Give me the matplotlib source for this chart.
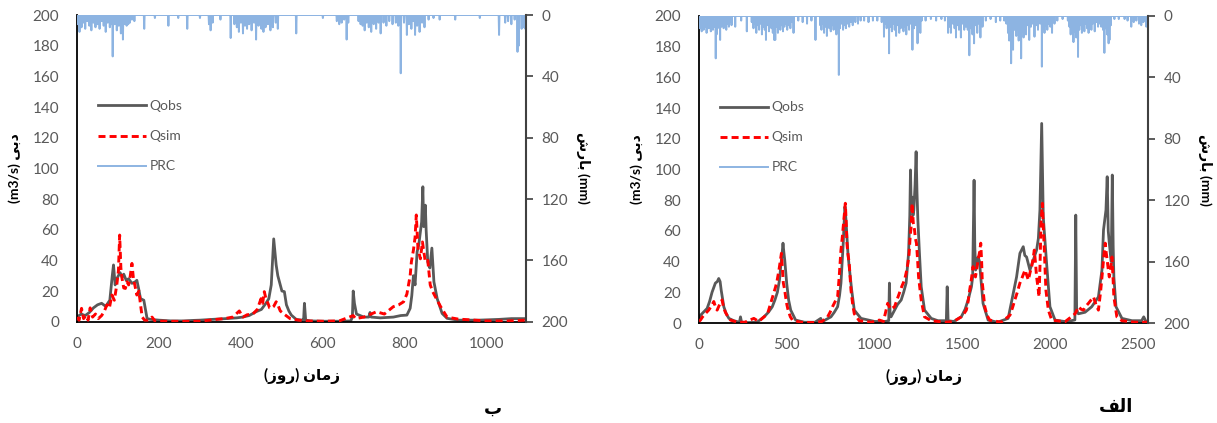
import numpy as np
import matplotlib
matplotlib.use("Agg")
import matplotlib.pyplot as plt


plt.rcParams['font.family'] = ['Lato', 'DejaVu Sans']

TICK_COLOR = "#595959"
OBS_COLOR = "#595959"
SIM_COLOR = "#FF0000"
PRC_COLOR = "#8DB4E2"

# ---- panel "ب" (left) ----
N_B = 1096

obs_b_day = [0, 10, 20, 30, 40, 50, 60, 70, 80, 86,
             89, 93, 97, 101, 105, 110, 114, 120, 126, 134,
             142, 146, 150, 155, 163, 167, 171, 180, 200, 230,
             260, 280, 300, 330, 363, 390, 404, 420, 437, 450,
             461, 468, 474, 480, 486, 490, 494, 500, 506, 511,
             517, 523, 535, 550, 553, 555, 558, 570, 600, 640,
             668, 672, 674, 677, 682, 700, 712, 715, 718, 740,
             772, 790, 805, 813, 817, 821, 825, 830, 834, 838,
             841, 844, 846, 848, 850, 852, 856, 861, 866, 871,
             879, 891, 903, 930, 980, 1030, 1060, 1096]
obs_b_val = [3, 5, 4, 6, 9, 11, 12, 10, 14, 30,
             37, 24, 28, 30, 32, 29, 31, 27, 28, 25,
             26, 27, 22, 15, 14, 8, 2, 1.5, 1, 0.5,
             0.5, 0.8, 1, 1.5, 2, 2.5, 3, 4, 6.5, 8,
             12, 15, 24, 54, 37, 30, 26, 20, 19.6, 11,
             7, 4.3, 1.5, 1, 1.5, 12, 1, 0.5, 0.3, 0.3,
             0.5, 3, 20, 12, 5, 3, 3, 6, 3, 2.5,
             3, 4, 4.3, 8.7, 17, 30, 24, 45.6, 50, 58.7,
             65, 88, 62, 70, 76, 60, 39, 35, 48, 26,
             15, 5.4, 2.2, 1, 1, 1.5, 2, 2]

sim_b_day = [0, 5, 11, 16, 22, 27, 32, 38, 45, 52,
             60, 66, 73, 79, 85, 91, 97, 101, 104, 107,
             110, 114, 118, 122, 126, 130, 134, 138, 141, 146,
             151, 155, 159, 165, 172, 183, 190, 210, 250, 300,
             340, 360, 380, 396, 405, 415, 429, 440, 449, 453,
             457, 462, 466, 470, 474, 480, 486, 490, 496, 505,
             520, 540, 560, 600, 640, 674, 680, 700, 731, 750,
             772, 785, 797, 805, 809, 813, 816, 821, 825, 828,
             832, 838, 843, 850, 856, 862, 868, 875, 881, 887,
             895, 903, 930, 1000, 1050, 1096]
sim_b_val = [3, 1, 8.7, 2, 4, 1, 9, 3, 5, 2,
             4, 6.5, 11, 9, 17.4, 14, 24, 33, 56.5, 35,
             28, 22, 21.7, 26, 24, 30, 38, 27, 24, 17.4,
             20, 11, 3, 1, 1, 3, 0.5, 0.3, 0.2, 0.3,
             1.5, 2, 3, 7, 3, 4.5, 5, 8, 15, 12,
             19.6, 14, 12, 9, 8.7, 10, 13, 11, 7, 5,
             2, 1, 0.5, 0.3, 0.5, 4, 2, 3, 6.5, 5,
             9.8, 11, 13, 18, 24, 30, 39, 46.7, 55, 69.6,
             48, 41, 52, 39, 40, 24, 19.6, 16, 13, 10,
             6.5, 3, 1.7, 0.5, 0.5, 1]

prc_b_day = [2, 6, 11, 15, 20, 25, 30, 35, 40, 45,
             50, 55, 60, 65, 70, 75, 80, 84, 87, 92,
             97, 102, 107, 112, 117, 121, 125, 129, 134, 140,
             164, 190, 223, 247, 269, 300, 322, 326, 331, 350,
             375, 384, 390, 395, 400, 405, 410, 415, 420, 426,
             432, 437, 443, 450, 455, 460, 466, 472, 478, 485,
             490, 535, 600, 634, 640, 646, 652, 658, 662, 687,
             692, 697, 702, 707, 712, 718, 724, 730, 736, 741,
             748, 755, 762, 770, 778, 784, 790, 798, 805, 810,
             816, 820, 825, 830, 836, 842, 848, 858, 870, 885,
             923, 983, 1030, 1045, 1052, 1060, 1068, 1075, 1078, 1085,
             1090, 1094]
prc_b_mm = [6, 11, 8, 5, 9, 4, 7, 10, 5, 8,
            6, 9, 4, 7, 11, 5, 8, 6, 27, 6,
            10, 7, 12, 16, 6, 7, 6, 5, 3, 4,
            9, 2, 7, 2, 9, 2, 6, 10, 5, 3,
            15, 6, 8, 11, 5, 12, 7, 9, 6, 10,
            5, 16, 7, 9, 11, 8, 6, 10, 8, 5,
            9, 12, 2, 4, 6, 5, 3, 16, 5, 4,
            6, 7, 10, 5, 8, 11, 6, 9, 5, 12,
            5, 7, 4, 6, 5, 7, 38, 5, 13, 6,
            9, 4, 13, 7, 11, 5, 8, 3, 2, 3,
            3, 2, 13, 5, 4, 6, 3, 24, 20, 9,
            8, 9]

# ---- panel "الف" (right) ----
N_A = 2557

obs_a_day = [0, 8, 25, 46, 60, 74, 93, 104, 112, 120,
             126, 141, 155, 170, 198, 230, 236, 242, 280, 330,
             370, 395, 417, 432, 446, 458, 465, 472, 478, 483,
             488, 494, 499, 510, 522, 550, 600, 660, 693, 700,
             751, 770, 789, 800, 808, 815, 821, 826, 831, 836,
             840, 848, 855, 869, 884, 922, 1000, 1060, 1080, 1084,
             1088, 1093, 1113, 1130, 1151, 1165, 1179, 1193, 1200, 1204,
             1208, 1213, 1218, 1223, 1230, 1236, 1241, 1246, 1255, 1265,
             1284, 1322, 1360, 1408, 1413, 1418, 1450, 1493, 1515, 1532,
             1551, 1558, 1566, 1570, 1575, 1589, 1597, 1604, 1617, 1646,
             1700, 1760, 1789, 1808, 1827, 1846, 1855, 1865, 1884, 1903,
             1922, 1932, 1941, 1951, 1960, 1979, 1998, 2027, 2080, 2120,
             2140, 2145, 2150, 2160, 2198, 2236, 2274, 2294, 2303, 2317,
             2324, 2330, 2336, 2347, 2353, 2358, 2362, 2374, 2408, 2465,
             2520, 2532, 2545, 2557]
obs_a_val = [3, 5, 7, 9.5, 14, 20, 26, 27, 29, 27,
             21.5, 10.6, 6, 3, 1.5, 0.5, 4, 0.5, 0.3, 0.5,
             4, 7, 10.6, 15, 20, 28, 36.7, 44, 52, 46,
             41, 33, 26, 15, 8.4, 1.9, 0.5, 0.5, 3, 0.8,
             4, 7, 10.6, 18, 26, 40, 52, 65, 75.8, 68,
             60.6, 45, 36.7, 21.5, 8.4, 3, 1, 1, 1.5, 26,
             5, 4, 8.4, 12, 15, 20, 26, 45.4, 70, 99.7,
             75, 82, 70, 73.6, 90, 111.6, 85, 67, 45.4, 23.6,
             8.4, 3, 1.5, 1.5, 23.6, 1.5, 1, 4, 9, 15,
             23.6, 30, 93, 50, 34.5, 43, 40, 30, 12.8, 1.9,
             0.5, 3, 19.3, 30, 45.4, 49.7, 44, 43, 34.5, 41,
             47.5, 55, 73.6, 130, 69, 38.8, 10.6, 1.9, 1, 1.5,
             2, 70.3, 8.4, 6, 7, 10.6, 17, 34.5, 60.6, 73.6,
             95.3, 60, 52, 40, 96.4, 50, 30, 10.6, 3, 1.5,
             1.5, 4, 1, 1]

sim_a_day = [0, 8, 20, 35, 55, 70, 84, 95, 103, 117,
             131, 140, 150, 165, 179, 220, 260, 312, 340, 370,
             390, 408, 422, 436, 445, 455, 462, 469, 475, 480,
             487, 493, 500, 507, 520, 532, 580, 650, 700, 732,
             746, 760, 775, 789, 798, 808, 815, 821, 827, 833,
             838, 842, 848, 855, 860, 865, 875, 884, 912, 980,
             1027, 1050, 1074, 1090, 1113, 1127, 1141, 1155, 1170, 1180,
             1189, 1196, 1202, 1207, 1213, 1220, 1227, 1232, 1238, 1244,
             1250, 1258, 1265, 1275, 1284, 1322, 1400, 1450, 1493, 1508,
             1522, 1532, 1541, 1550, 1560, 1567, 1574, 1582, 1589, 1597,
             1604, 1609, 1613, 1620, 1627, 1640, 1655, 1720, 1770, 1785,
             1798, 1812, 1827, 1841, 1856, 1866, 1875, 1885, 1894, 1902,
             1909, 1915, 1922, 1929, 1936, 1942, 1947, 1955, 1961, 1966,
             1975, 1989, 2008, 2084, 2141, 2150, 2160, 2175, 2189, 2203,
             2217, 2232, 2246, 2260, 2274, 2286, 2298, 2306, 2313, 2318,
             2324, 2330, 2336, 2344, 2351, 2357, 2362, 2379, 2408, 2480,
             2557]
sim_a_val = [1, 1.9, 4, 6, 8.4, 11, 14, 10, 8.4, 12,
             15, 10, 7, 4, 1.9, 0.5, 0.5, 3, 1, 4,
             6, 12.8, 18, 23.6, 28, 34.5, 40, 45.4, 35, 26,
             22, 17, 12, 8.4, 4, 1.9, 0.5, 0.3, 1, 4,
             7, 10.6, 14, 17, 30, 47.5, 55, 62.7, 70, 78,
             65, 52, 45, 38.8, 30, 21.5, 12, 6, 1.5, 0.5,
             1.9, 1, 12.8, 9, 10.6, 15, 19.3, 24, 28, 33,
             38.8, 45, 56.2, 62, 78, 65, 60.6, 55, 52, 42,
             30, 22, 15, 9, 4, 1.5, 0.5, 1, 4, 6,
             8.4, 14, 21.5, 28, 36.7, 33, 30, 36, 41, 46,
             52, 40, 26, 18, 10.6, 5, 1.9, 0.5, 5, 10,
             15, 20, 26, 30, 34.5, 31, 28, 33, 36.7, 42,
             47.5, 40, 30, 24, 17, 40, 65, 78, 60, 47.5,
             21.5, 8.4, 1.9, 0.8, 6, 8, 10.6, 9, 8.4, 11,
             12.8, 15, 17, 12, 8.4, 20, 34.5, 45, 52, 46,
             41, 35, 30, 36, 43, 30, 17, 4, 1.5, 0.5,
             0.5]

prc_a_day = [2, 6, 10, 15, 20, 26, 31, 37, 43, 48,
             55, 61, 67, 73, 79, 85, 90, 95, 100, 106,
             112, 120, 127, 134, 140, 147, 155, 163, 170, 178,
             185, 206, 240, 272, 300, 310, 318, 326, 334, 342,
             350, 358, 366, 374, 381, 390, 398, 405, 412, 420,
             428, 434, 441, 449, 456, 463, 470, 478, 486, 494,
             502, 510, 520, 530, 538, 565, 590, 615, 640, 663,
             690, 697, 705, 712, 720, 728, 735, 742, 750, 758,
             766, 774, 782, 790, 796, 803, 812, 820, 828, 836,
             845, 855, 865, 875, 890, 905, 920, 940, 965, 990,
             1015, 1040, 1053, 1060, 1068, 1075, 1082, 1090, 1098, 1106,
             1114, 1122, 1130, 1140, 1148, 1156, 1164, 1172, 1180, 1188,
             1196, 1205, 1215, 1224, 1234, 1244, 1252, 1260, 1268, 1290,
             1320, 1350, 1380, 1400, 1418, 1426, 1434, 1445, 1455, 1463,
             1472, 1480, 1491, 1500, 1510, 1520, 1530, 1539, 1548, 1557,
             1566, 1575, 1584, 1593, 1602, 1614, 1633, 1660, 1690, 1715,
             1738, 1750, 1759, 1766, 1772, 1777, 1783, 1788, 1795, 1800,
             1806, 1813, 1820, 1827, 1834, 1841, 1848, 1855, 1862, 1870,
             1880, 1890, 1900, 1910, 1920, 1930, 1942, 1952, 1960, 1967,
             1975, 1983, 1992, 2000, 2010, 2024, 2040, 2070, 2100, 2109,
             2116, 2124, 2132, 2140, 2148, 2158, 2165, 2172, 2180, 2186,
             2194, 2202, 2210, 2218, 2226, 2234, 2242, 2253, 2262, 2272,
             2282, 2290, 2300, 2308, 2316, 2324, 2332, 2337, 2345, 2365,
             2390, 2423, 2440, 2461, 2475, 2490, 2505, 2518, 2530, 2540,
             2547, 2553]
prc_a_mm = [5, 8, 4, 10, 6, 9, 5, 7, 11, 6,
            8, 5, 10, 6, 9, 4, 7, 27.6, 12, 8,
            6, 15.6, 7, 5, 8, 6, 9, 5, 7, 4,
            6, 7, 3, 10, 4, 8, 5, 11, 6, 9,
            5, 12, 7, 9, 15.6, 6, 10, 5, 8, 11,
            15.6, 15.6, 7, 11, 5, 9, 6, 10, 7, 5,
            9, 6, 8, 4, 11, 3, 4, 5, 3, 15.6,
            6, 9, 5, 11, 7, 13, 5, 8, 10, 6,
            9, 5, 12, 7, 38.4, 8, 5, 9, 6, 8,
            5, 7, 4, 6, 4, 5, 3, 3, 4, 3,
            3, 4, 13.5, 5, 8, 6, 24.3, 7, 10, 5,
            9, 13, 6, 11, 8, 5, 10, 7, 12, 6,
            9, 5, 22, 8, 6, 17.8, 7, 11, 3, 3,
            2, 3, 2, 3, 11, 7, 11, 5, 8, 14,
            6, 9, 14, 5, 9, 7, 9, 25.6, 8, 12,
            17.8, 6, 11, 5, 14, 7, 3, 2, 4, 3,
            3, 5, 11, 16, 8, 30.8, 12, 22, 9, 6,
            13, 9, 16, 7, 27.6, 10, 14, 8, 12, 6,
            15.6, 7, 5, 13.5, 6, 9, 5, 33, 8, 11,
            6, 9, 5, 7, 11, 5, 3, 2, 3, 7,
            12, 8, 17, 10, 14, 26.7, 9, 6, 11, 7,
            10, 5, 8, 11, 6, 9, 5, 10, 4, 7,
            5, 7, 9, 24, 8, 12, 17.8, 15.6, 6, 2,
            2, 2, 3, 7, 4, 3, 5, 6, 4, 3,
            7, 4]

# shaped Persian text (visual order, presentation forms)
XLABEL = "(\uFEAF\uFEED\uFEAD) \uFEE5\uFE8E\uFEE3\uFEAF"      # زمان (روز)
YLABEL_L = "(m3/s) \uFEF0\uFE91\uFEA9"                        # دبی (m3/s)
YLABEL_R = "\uFEB5\uFEAD\uFE8E\uFE91 (mm)"                    # بارش (mm)
TAG_B = "\uFE8F"                                              # ب
TAG_A = "\uFED2\uFEDF\uFE8D"                                  # الف


def daily(n, days, vals):
    s = np.zeros(n + 1)
    s[np.array(days)] = vals
    return s


def draw_panel(rect, n, xticks, obs_d, obs_v, sim_d, sim_v, prc_d, prc_v):
    ax = fig.add_axes(rect)
    ax2 = ax.twinx()

    l1, = ax.plot(obs_d, obs_v, color=OBS_COLOR, lw=2.0, label="Qobs", zorder=2)
    l2, = ax.plot(sim_d, sim_v, color=SIM_COLOR, lw=2.1, ls=(0, (2.4, 1.4)),
                  label="Qsim", zorder=3)
    prc = daily(n, prc_d, prc_v)
    l3, = ax2.plot(np.arange(n + 1), prc, color=PRC_COLOR, lw=1.4, label="PRC")

    ax.set_xlim(0, n)
    ax.set_ylim(0, 200)
    ax.set_yticks(np.arange(0, 201, 20))
    ax.set_xticks(xticks)
    ax2.set_ylim(200, 0)
    ax2.set_yticks(np.arange(0, 201, 40))

    ax.tick_params(axis="both", length=0, labelsize=11, colors=TICK_COLOR)
    ax.tick_params(axis="x", pad=11)
    ax.tick_params(axis="y", pad=13)
    ax2.tick_params(axis="y", length=5, width=1.2, direction="out", color="#404040",
                    labelsize=11, labelcolor=TICK_COLOR, pad=6)

    for a in (ax, ax2):
        a.spines["top"].set_visible(False)
    ax.spines["left"].set_color("black")
    ax.spines["left"].set_linewidth(1.3)
    ax.spines["bottom"].set_color("black")
    ax.spines["bottom"].set_linewidth(1.3)
    ax.spines["right"].set_visible(False)
    ax2.spines["left"].set_visible(False)
    ax2.spines["bottom"].set_visible(False)
    ax2.spines["right"].set_color("#404040")
    ax2.spines["right"].set_linewidth(1.5)

    ax.set_xlabel(XLABEL, fontsize=11, fontweight="bold", labelpad=12)
    ax.set_ylabel(YLABEL_L, fontsize=10, fontweight="bold", labelpad=8)
    ax2.set_ylabel(YLABEL_R, fontsize=10, fontweight="bold", rotation=270, labelpad=16)

    ax2.legend(handles=[l1, l2, l3], loc="upper left", bbox_to_anchor=(0.035, 0.74),
               frameon=False, fontsize=10, labelcolor=TICK_COLOR, handlelength=3.4,
               labelspacing=1.3, handletextpad=0.3, borderaxespad=0)
    return ax


fig = plt.figure(figsize=(12.17, 4.23), dpi=100)

draw_panel([0.0633, 0.2395, 0.369, 0.725], N_B, np.arange(0, 1001, 200),
           obs_b_day, obs_b_val, sim_b_day, sim_b_val, prc_b_day, prc_b_mm)
draw_panel([0.5744, 0.2364, 0.369, 0.7258], N_A, np.arange(0, 2501, 500),
           obs_a_day, obs_a_val, sim_a_day, sim_a_val, prc_a_day, prc_a_mm)

fig.text(0.398, 0.022, TAG_B, fontsize=13, fontweight="bold")
fig.text(0.903, 0.025, TAG_A, fontsize=13, fontweight="bold")

fig.savefig("out.png", dpi=100)
